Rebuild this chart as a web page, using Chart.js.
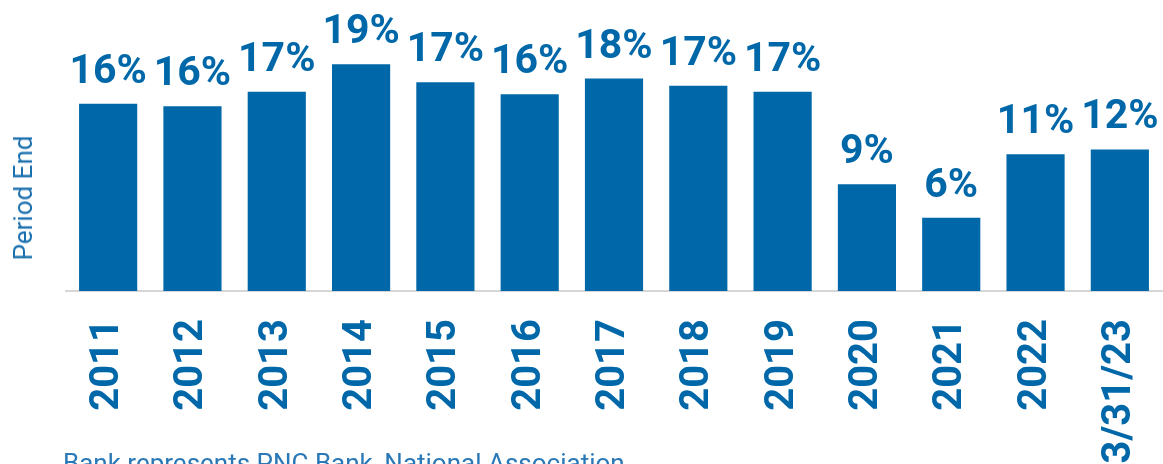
<!DOCTYPE html>
<html>
<head>
<meta charset="utf-8">
<script src="https://cdn.jsdelivr.net/npm/chart.js@4"></script>
<style>
    html, body { margin: 0; padding: 0; background: #fff; overflow: hidden; }
    #wrap { position: relative; width: 1163px; height: 464px; }
    #yTitle {
        position: absolute; left: 23px; top: 198px;
        transform: translate(-50%, -50%) rotate(-90deg);
        font: 26px Roboto, sans-serif; color: #1a6fae; white-space: nowrap;
    }
    #note {
        position: absolute; left: 63px; top: 448px;
        font: 26px Roboto, sans-serif; color: #2a78b6; white-space: nowrap;
    }
</style>
</head>
<body>
<div id="wrap">
    <canvas id="chart"></canvas>
    <div id="yTitle">Period End</div>
    <div id="note">Bank represents PNC Bank, National Association</div>
</div>
<script>
// Data
const periods = ['2011', '2012', '2013', '2014', '2015', '2016', '2017', '2018', '2019', '2020', '2021', '2022', '3/31/23'];
const values = [15.6, 15.4, 16.6, 18.9, 17.4, 16.4, 17.7, 17.1, 16.6, 8.9, 6.1, 11.4, 11.8];
const valueLabels = ['16%', '16%', '17%', '19%', '17%', '16%', '18%', '17%', '17%', '9%', '6%', '11%', '12%'];

const BLUE = '#0068a9';

// Draw the % labels above each bar
const barLabels = {
    id: 'barLabels',
    afterDatasetsDraw(chart) {
        const ctx = chart.ctx;
        const meta = chart.getDatasetMeta(0);
        ctx.save();
        ctx.fillStyle = BLUE;
        ctx.font = 'bold 41px Roboto, sans-serif';
        ctx.textAlign = 'center';
        ctx.textBaseline = 'alphabetic';
        meta.data.forEach((bar, i) => {
            ctx.fillText(valueLabels[i], bar.x, bar.y - 21);
        });
        ctx.restore();
    }
};

new Chart(document.getElementById('chart'), {
    type: 'bar',
    data: {
        labels: periods,
        datasets: [{
            data: values,
            backgroundColor: BLUE,
            borderWidth: 0,
            barPercentage: 0.69,
            categoryPercentage: 1
        }]
    },
    options: {
        responsive: true,
        maintainAspectRatio: false,
        animation: false,
        layout: {
            padding: { left: 66, top: 3, right: 1, bottom: 0 }
        },
        plugins: {
            legend: { display: false },
            tooltip: { enabled: false }
        },
        scales: {
            x: {
                grid: { display: false, drawTicks: false },
                border: { color: '#d6d6d6', width: 2 },
                ticks: {
                    color: BLUE,
                    font: { family: 'Roboto', weight: 'bold', size: 40 },
                    maxRotation: 90,
                    minRotation: 90,
                    padding: 28,
                    autoSkip: false
                },
                afterFit: (scale) => {
                    scale.height = 173;
                    scale.paddingLeft = 0;
                    scale.paddingRight = 0;
                }
            },
            y: {
                display: false,
                min: 0,
                max: 24
            }
        }
    },
    plugins: [barLabels]
});
</script>
</body>
</html>
